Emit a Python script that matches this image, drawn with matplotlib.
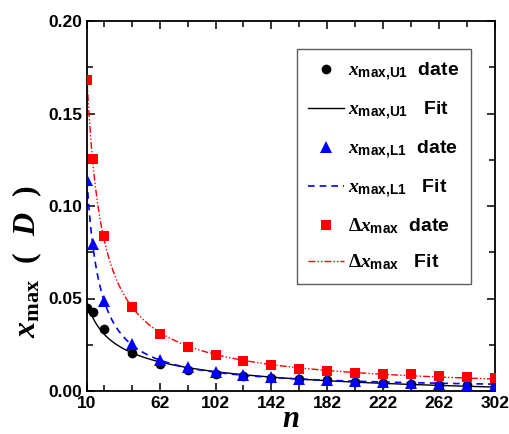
import numpy as np
import matplotlib
matplotlib.use('Agg')
import matplotlib.pyplot as plt
from matplotlib.ticker import FixedLocator, MultipleLocator, FormatStrFormatter

plt.rcParams['mathtext.fontset'] = 'custom'
plt.rcParams['mathtext.rm'] = 'Liberation Serif'
plt.rcParams['mathtext.it'] = 'Liberation Serif:italic'
plt.rcParams['mathtext.bf'] = 'Liberation Sans:bold'
plt.rcParams['mathtext.bfit'] = 'Liberation Serif:italic:bold'
plt.rcParams['font.family'] = 'Liberation Sans'
plt.rcParams['font.weight'] = 'bold'

# chain length n and the three measured quantities
n = np.array([10, 14, 22, 42, 62, 82, 102, 122, 142, 162, 182, 202, 222, 242, 262, 282, 302], dtype=float)
x_u1 = np.array([0.0450, 0.0427, 0.0333, 0.0205, 0.0145, 0.0112, 0.0094, 0.0082, 0.0072,
                 0.0063, 0.0057, 0.0051, 0.0045, 0.0040, 0.0034, 0.0030, 0.0026])
x_l1 = np.array([0.1139, 0.0797, 0.0486, 0.0252, 0.0168, 0.0128, 0.0103, 0.0089, 0.0076,
                 0.0065, 0.0059, 0.0055, 0.0049, 0.0045, 0.0038, 0.0035, 0.0034])
dx = np.array([0.1683, 0.1255, 0.0836, 0.0456, 0.0310, 0.0238, 0.0193, 0.0161, 0.0140,
               0.0121, 0.0108, 0.0098, 0.0093, 0.0090, 0.0080, 0.0073, 0.0070])

x_major = [10, 62, 102, 142, 182, 222, 262, 302]
x_minor = [22, 42, 82, 122, 162, 202, 242, 282]


def power_fit(xs, ys):
    # y = a * x**b + c, scan b and solve a, c by least squares
    best = None
    for b in np.linspace(-3.0, -0.05, 800):
        A = np.column_stack([xs ** b, np.ones_like(xs)])
        coef = np.linalg.lstsq(A, ys, rcond=None)[0]
        r = np.sum((A @ coef - ys) ** 2)
        if best is None or r < best[0]:
            best = (r, coef[0], b, coef[1])
    return best[1:]


nf = np.linspace(10, 302, 400)

fig = plt.figure(figsize=(5.09, 4.34), dpi=100)
ax = fig.add_axes([87/509, 1-391/434, 408/509, 370/434])

series = [
    (x_u1, 'black', 'o', 7, '-', 1.0, r'$\mathit{x}_{\mathbf{max{,}U1}}$'),
    (x_l1, 'blue', '^', 8, (0, (4, 3)), 1.2, r'$\mathit{x}_{\mathbf{max{,}L1}}$'),
    (dx, 'red', 's', 6.5, (0, (5, 1.5, 1, 1.5, 1, 1.5)), 1.0, r'$\Delta\mathit{x}_{\mathbf{max}}$'),
]
for ys, col, mk, ms, ls, lw, name in series:
    a, b, c = power_fit(n, ys)
    ax.plot(n, ys, mk, color=col, ms=ms, mew=0, ls='none', label=name + '  date', zorder=3)
    ax.plot(nf, a * nf ** b + c, color=col, ls=ls, lw=lw, label=name + '   Fit', zorder=2)

ax.set_xlim(10, 302)
ax.set_ylim(0, 0.20)
ax.xaxis.set_major_locator(FixedLocator(x_major))
ax.xaxis.set_minor_locator(FixedLocator(x_minor))
ax.yaxis.set_major_locator(MultipleLocator(0.05))
ax.yaxis.set_minor_locator(MultipleLocator(0.025))
ax.yaxis.set_major_formatter(FormatStrFormatter('%.2f'))
ax.tick_params(which='both', direction='in', top=True, right=True, width=1.1, labelsize=12.5)
ax.tick_params(which='major', length=6)
ax.tick_params(which='minor', length=4)
for sp in ax.spines.values():
    sp.set_linewidth(1.3)

ax.set_xlabel(r'$\mathbfit{n}$', fontsize=22, labelpad=-5)
ax.set_ylabel(r'$\mathit{x}_{\mathrm{max}}\ \ \mathrm{(}\ \ \mathbfit{D}\ \ \mathrm{)}$', fontsize=23)
ax.yaxis.set_label_coords(-0.105, 0.35)

leg = ax.legend(loc='upper right', bbox_to_anchor=(0.941, 0.924), borderaxespad=0,
                fontsize=14, frameon=True, fancybox=False, handlelength=1.85,
                handletextpad=0.2, labelspacing=0.84, borderpad=0.6)
leg.get_frame().set_edgecolor('#333333')
leg.get_frame().set_linewidth(1.0)

fig.savefig('out.png', dpi=100)
